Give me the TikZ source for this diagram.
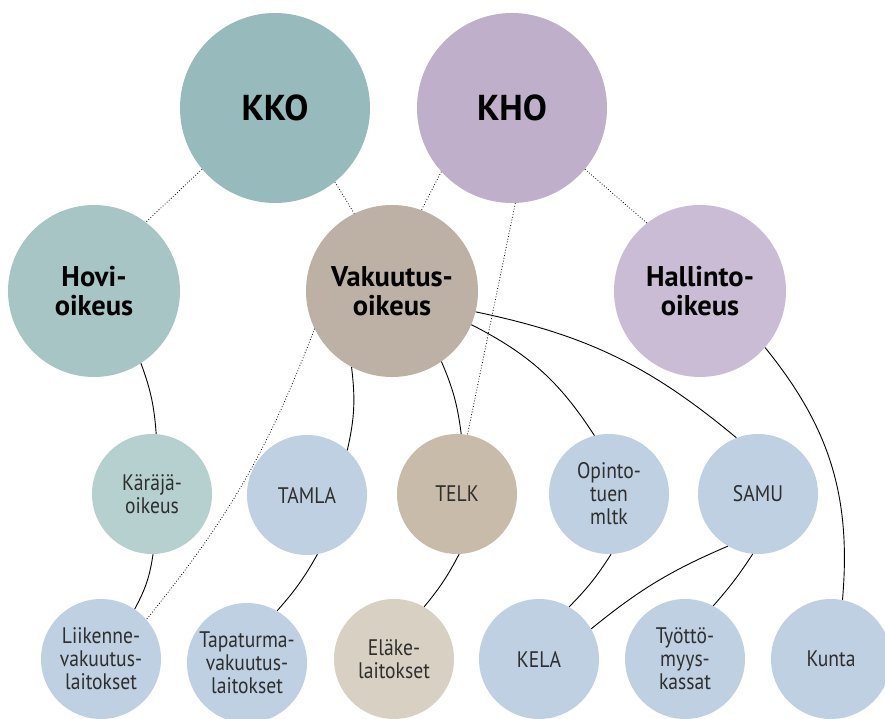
\documentclass[tikz,border=0pt]{standalone}
\usepackage{fontspec}
\setmainfont{PT Sans}
\newfontfamily\condfont[FakeStretch=0.87]{PT Sans}
\begin{document}
\begin{tikzpicture}[x=1pt,y=1pt,
  big/.style={circle,inner sep=0pt,minimum size=190pt,font=\fontsize{36}{40}\selectfont\bfseries,align=center},
  mid/.style={circle,inner sep=0pt,minimum size=172pt,font=\fontsize{28.5}{29.5}\selectfont\bfseries,align=center},
  small/.style={circle,inner sep=0pt,minimum size=120pt,font=\condfont\fontsize{22.5}{23}\selectfont,align=center,text=black!82},
  solid link/.style={line width=0.9pt},
  dot link/.style={line width=0.8pt,dash pattern=on 0.8pt off 2pt}]
\definecolor{kkoC}{HTML}{97BABC}
\definecolor{hoviC}{HTML}{A7C5C5}
\definecolor{karC}{HTML}{B5D0CE}
\definecolor{khoC}{HTML}{BFAFCB}
\definecolor{hallC}{HTML}{CABCD5}
\definecolor{vakC}{HTML}{BDB0A4}
\definecolor{telkC}{HTML}{C8BBA9}
\definecolor{elakeC}{HTML}{D8D0C2}
\definecolor{blueC}{HTML}{BFD0E2}
\useasboundingbox (0,0) rectangle (885,718);
\node[big,fill=kkoC] (kko) at (275,610) {KKO};
\node[big,fill=khoC] (kho) at (512,610) {KHO};
\node[mid,fill=hoviC] (hovi) at (94,427) {Hovi-\\oikeus};
\node[mid,fill=vakC] (vak) at (392,427) {Vakuutus-\\oikeus};
\node[mid,fill=hallC] (hall) at (700,427) {Hallinto-\\oikeus};
\node[small,fill=karC] (kar) at (152,224) {Käräjä-\\oikeus};
\node[small,fill=blueC] (tamla) at (307,223) {TAMLA};
\node[small,fill=telkC] (telk) at (457,224) {TELK};
\node[small,fill=blueC] (opinto) at (609,224) {Opinto-\\tuen\\mltk};
\node[small,fill=blueC] (samu) at (758,224) {SAMU};
\node[small,fill=blueC] (liik) at (101,59) {Liikenne-\\vakuutus-\\laitokset};
\node[small,fill=blueC] (tapa) at (247,55) {Tapaturma-\\vakuutus-\\laitokset};
\node[small,fill=elakeC] (elake) at (394,59) {Eläke-\\laitokset};
\node[small,fill=blueC] (kela) at (539,59) {KELA};
\node[small,fill=blueC] (tyotto) at (685,59) {Työttö-\\myys-\\kassat};
\node[small,fill=blueC] (kunta) at (831,59) {Kunta};
% dotted
\draw[dot link] (kko.220) -- (hovi.53);
\draw[dot link] (kko.309) -- (vak.116);
\draw[dot link] (kho.222) -- (vak.70);
\draw[dot link] (kho.320) -- (hall.128);
\draw[dot link] (kho.272) -- (telk.80);
\draw[dot link] (vak.206) to[bend left=9] (liik.41);
% solid
\draw[solid link] (hovi.303) to[bend left=8] (kar.86);
\draw[solid link] (kar.271) to[bend left=10] (liik.56);
\draw[solid link] (vak.242) to[bend left=10] (tamla.48);
\draw[solid link] (vak.305) to[bend left=8] (telk.86);
\draw[solid link] (vak.337) to[bend left=15] (opinto.104);
\draw[solid link] (vak.346) to[bend left=14] (samu.111);
\draw[solid link] (hall.319) to[bend left=22] (kunta.79);
\draw[solid link] (tamla.280) to[bend left=6] (tapa.60);
\draw[solid link] (telk.272) to[bend left=6] (elake.60);
\draw[solid link] (opinto.272) to[bend left=6] (kela.60);
\draw[solid link] (samu.240) to[bend right=8] (kela.30);
\draw[solid link] (samu.265) to[bend left=4] (tyotto.62);
\end{tikzpicture}
\end{document}
